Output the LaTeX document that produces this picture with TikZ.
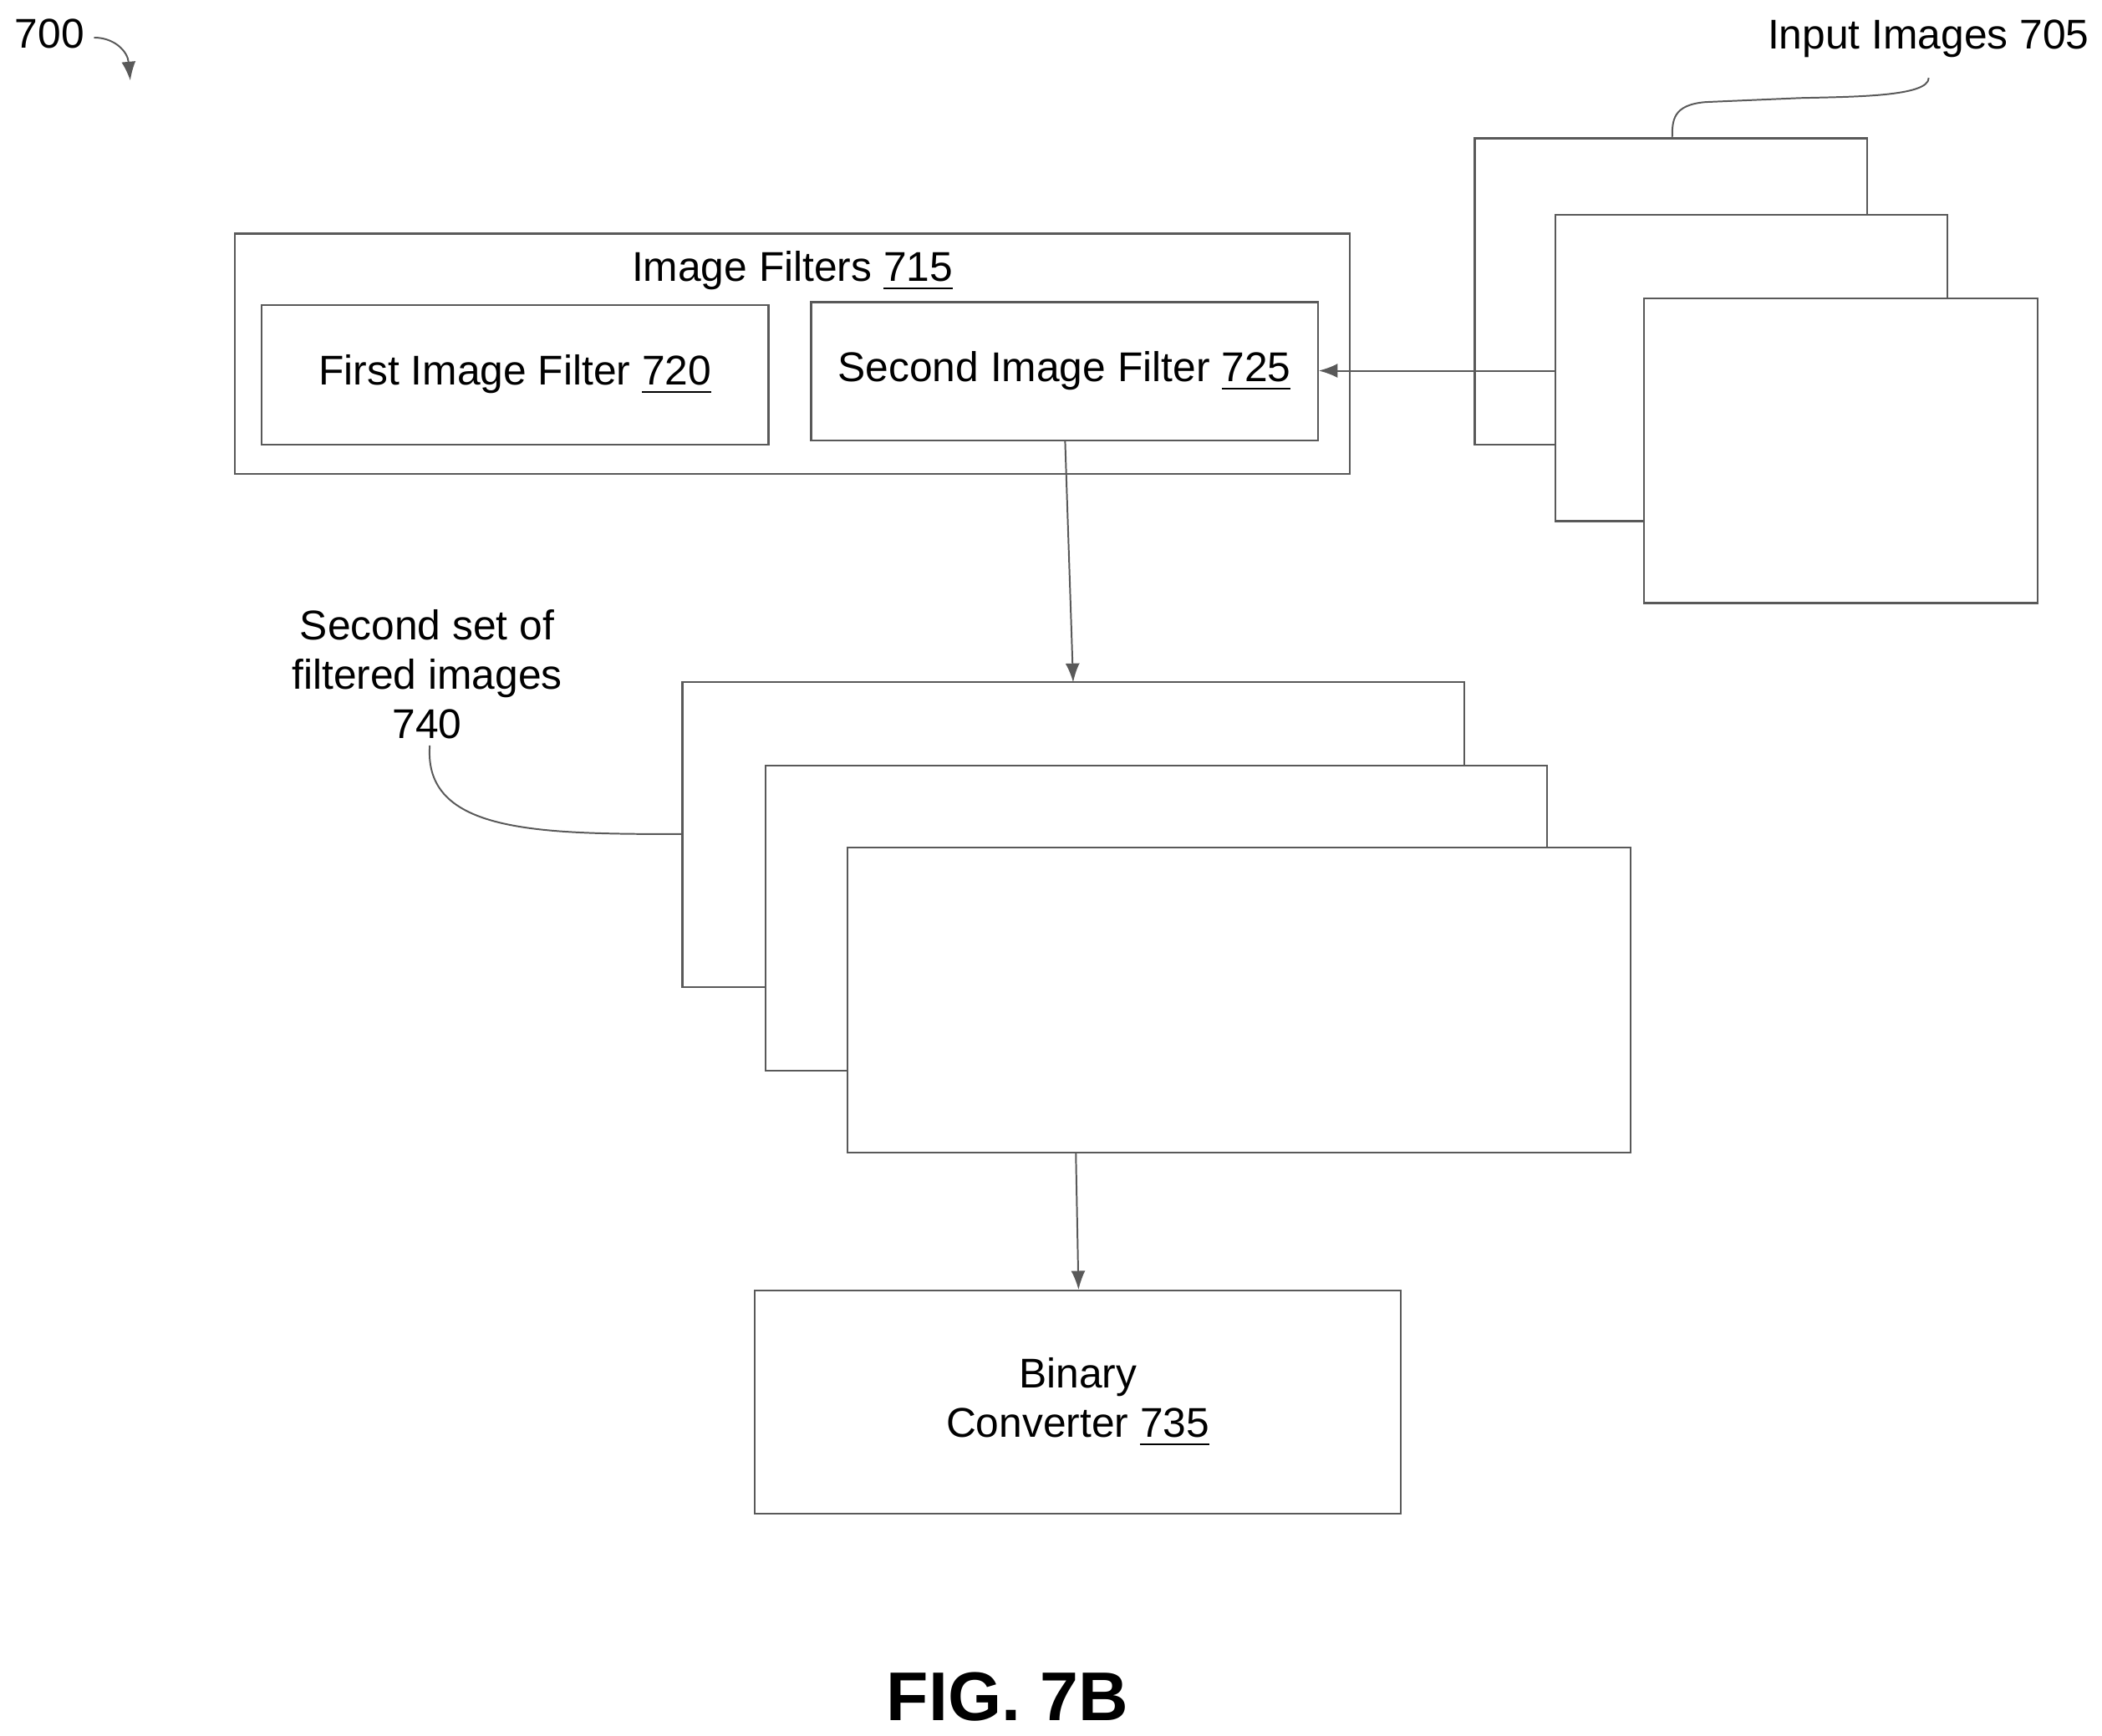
\documentclass[tikz,border=0pt]{standalone}
\usepackage{fontspec}
\setmainfont{Liberation Sans}
\usetikzlibrary{arrows.meta}
\begin{document}
\begin{tikzpicture}[x=0.01cm,y=-0.01cm,
  box/.style={draw=black!65,line width=0.4pt,fill=white},
  lbl/.style={font=\fontsize{8.8}{10.5}\selectfont,align=center,inner sep=0},
  arr/.style={draw=black!65,line width=0.35pt,-{Latex[length=4pt,width=3pt]}},
  lead/.style={draw=black!65,line width=0.35pt}]
\useasboundingbox (0,0) rectangle (1565,1292);
% image filters
\draw[box] (175,174) rectangle (1005,353);
\node[lbl] (ifl) at (590,202) {Image Filters \underline{715}};
\node[box,minimum width=3.77cm,minimum height=1.04cm,inner sep=0] (f1) at (383.5,279) {};
\node[lbl] at (f1) {First Image Filter \underline{720}};
\node[box,minimum width=3.77cm,minimum height=1.03cm,inner sep=0] (f2) at (792.5,276.5) {};
\node[lbl] at (f2) {Second Image Filter \underline{725}};
% input images
\draw[box] (1098,103) rectangle (1390,331);
\draw[box] (1158,160) rectangle (1450,388);
\draw[box] (1224,222) rectangle (1517,449);
\coordinate (in2) at (1158,276);
\draw[arr] (in2) -- (f2.east|-in2);
\node[lbl,anchor=north east] (inl) at (1556,14) {Input Images 705};
\coordinate (inlb) at (1436,58);
\coordinate (in1t) at (1245,103);
\draw[lead] (inlb) .. controls (1436,72) and (1380,72) .. (1340,73) -- (1270,76) .. controls (1245,78) and (1245,90) .. (in1t);
% filtered images
\draw[box] (508,508) rectangle (1090,735);
\draw[box] (570,570) rectangle (1152,797);
\draw[box] (631,631) rectangle (1214,858);
\coordinate (fi1t) at (799,508);
\coordinate (fi3b) at (801,858);
\coordinate (f2b) at (793,328);
\draw[arr] (f2b) -- (fi1t);
\node[lbl,align=center] (sl) at (318,502) {Second set of\\filtered images\\740};
\coordinate (slb) at (320,555);
\coordinate (fi1l) at (508,621);
\draw[lead] (slb) .. controls (315,620) and (400,621) .. (fi1l);
% binary converter
\node[box,minimum width=4.81cm,minimum height=1.66cm,inner sep=0] (bc) at (802.5,1044) {};
\node[lbl] at (bc) {Binary\\Converter \underline{735}};
\draw[arr] (fi3b) -- (bc.north-|803,0);
% fig
\node[font=\bfseries\fontsize{14.6}{18}\selectfont,inner sep=0] (fig) at (750,1263) {FIG. 7B};
\node[lbl] (n700) at (37,25) {700};
\coordinate (a700) at (97,60);
\draw[arr] (70,28) .. controls (85,28) and (95,38) .. (a700);
\end{tikzpicture}
\end{document}
